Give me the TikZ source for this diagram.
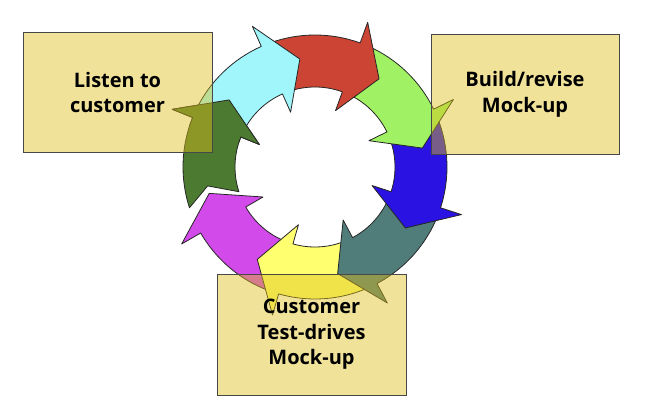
\documentclass[tikz,border=0pt]{standalone}
\usepackage{fontspec}
\setmainfont{Open Sans}
\definecolor{cCyan}{RGB}{160,246,250}
\definecolor{cRed}{RGB}{204,68,52}
\definecolor{cGreen}{RGB}{160,242,100}
\definecolor{cBlue}{RGB}{42,18,226}
\definecolor{cTeal}{RGB}{80,124,122}
\definecolor{cYellow}{RGB}{255,255,112}
\definecolor{cMagenta}{RGB}{210,74,234}
\definecolor{cDkGreen}{RGB}{76,122,48}
\definecolor{boxgold}{RGB}{222,190,24}
% #1 = tip angle, #2 = colour
\newcommand\ringarrow[2]{%
  \filldraw[seg, fill=#2] (#1+16:154pt) -- (#1:109pt) -- (#1+16:60pt) -- (#1+16:80pt)
    arc[start angle=#1+16, end angle=#1+56, radius=80pt]
    -- (#1+48:109pt) -- (#1+56:132pt)
    arc[start angle=#1+56, end angle=#1+16, radius=132pt] -- cycle;}
\begin{document}
\begin{tikzpicture}[x=1pt,y=1pt,
  seg/.style={draw=black!85, line width=0.8pt, line join=round},
  infobox/.style={draw=black!72, line width=1pt, fill=boxgold, fill opacity=0.44,
    text opacity=1, align=center, inner sep=0pt,
    font=\bfseries\fontsize{20}{25.5}\selectfont}]
\useasboundingbox (0,0) rectangle (652,416);
\coordinate (c) at (315,249);
\begin{scope}[shift={(c)}]
  \ringarrow{142}{cDkGreen}
  \ringarrow{-166}{cMagenta}
  \ringarrow{-122}{cYellow}
  \ringarrow{-78}{cTeal}
  \ringarrow{-34}{cBlue}
  \ringarrow{10}{cGreen}
  \ringarrow{54}{cRed}
  \ringarrow{98}{cCyan}
  \begin{scope}
    \clip (0,0) -- (136:180pt) arc[start angle=136, end angle=162, radius=180pt] -- cycle;
    \ringarrow{142}{cDkGreen}
  \end{scope}
\end{scope}
\node[infobox, minimum width=189pt, minimum height=119pt] (listen) at (117.5,323.5) {Listen to\\customer};
\node[infobox, minimum width=188pt, minimum height=119pt] (build) at (525,321.5) {Build/revise\\Mock-up};
\node[infobox, minimum width=189pt, minimum height=121pt] (test) at (311.5,81.5) {Customer\\Test-drives\\Mock-up};
\end{tikzpicture}
\end{document}
